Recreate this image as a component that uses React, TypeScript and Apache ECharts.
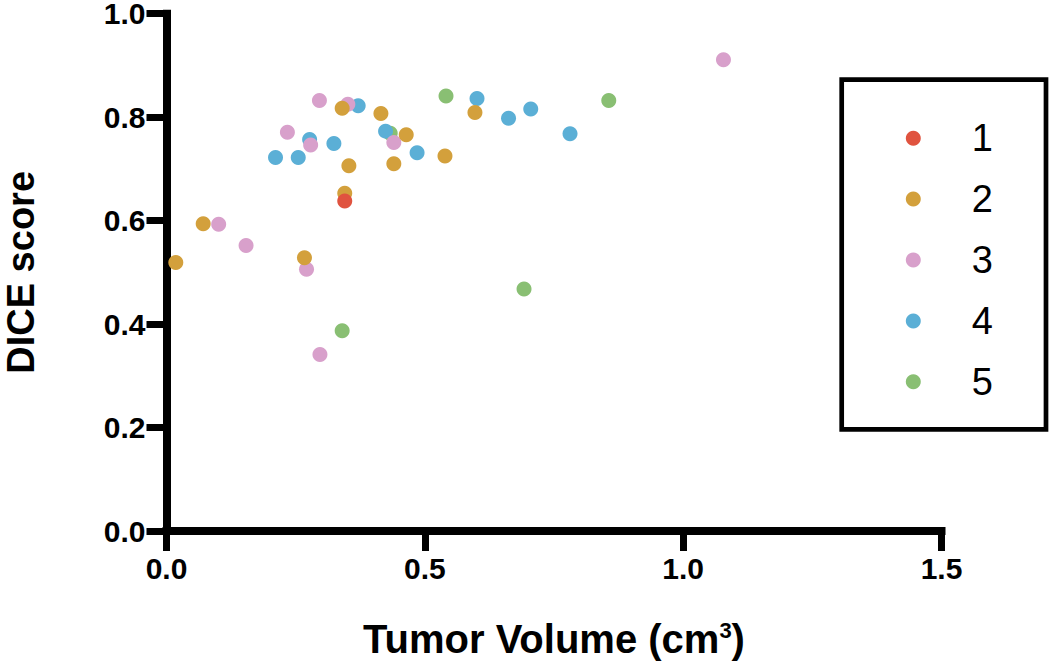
import React, { useEffect, useRef } from "react";
import * as echarts from "echarts";

const groupNames = ["1", "2", "3", "4", "5"];
const groupColors = ["#E0533F", "#D3A03C", "#D8A0CB", "#5BAFD6", "#89BF73"];

const group1: [number, number][] = [[0.345, 0.638]];
const group2: [number, number][] = [
  [0.018, 0.519], [0.071, 0.594], [0.267, 0.528], [0.34, 0.817], [0.345, 0.653],
  [0.353, 0.706], [0.415, 0.807], [0.44, 0.71], [0.464, 0.766], [0.539, 0.725], [0.597, 0.809],
];
const group3: [number, number][] = [
  [0.101, 0.593], [0.154, 0.552], [0.234, 0.771], [0.271, 0.506], [0.279, 0.746],
  [0.296, 0.832], [0.297, 0.341], [0.351, 0.825], [0.44, 0.751], [1.078, 0.911],
];
const group4: [number, number][] = [
  [0.211, 0.722], [0.255, 0.722], [0.277, 0.757], [0.324, 0.749], [0.371, 0.822],
  [0.424, 0.773], [0.485, 0.731], [0.601, 0.836], [0.662, 0.798], [0.705, 0.816], [0.781, 0.768],
];
const group5: [number, number][] = [
  [0.34, 0.387], [0.433, 0.769], [0.541, 0.841], [0.692, 0.468], [0.856, 0.832],
];
const groups = [group1, group2, group3, group4, group5];

const xTicks = { min: 0, max: 1.5, interval: 0.5 };
const yTicks = { min: 0, max: 1.0, interval: 0.2 };

const FONT = "'Liberation Sans', Arial, Helvetica, sans-serif";

export default function App() {
  const ref = useRef<HTMLDivElement>(null);
  useEffect(() => {
    if (!ref.current) return;
    const chart = echarts.init(ref.current, undefined, { renderer: "svg" });
    const axisCommon = {
      axisLine: { show: true, lineStyle: { color: "#000", width: 8, cap: "square" } },
      axisTick: { show: true, inside: false, length: 20, lineStyle: { color: "#000", width: 7 } },
      splitLine: { show: false },
      axisLabel: {
        color: "#000",
        fontFamily: FONT,
        fontWeight: "bold",
        fontSize: 30,
        lineHeight: 24,
        formatter: (v: number) => v.toFixed(1),
      },
    };
    chart.setOption({
      animation: false,
      backgroundColor: "#fff",
      textStyle: { fontFamily: FONT },
      grid: {
        left: 166.5,
        top: 13.7,
        width: 775,
        height: 517.3,
        containLabel: false,
        outerBoundsMode: "none",
      },
      xAxis: {
        type: "value",
        ...xTicks,
        ...axisCommon,
        axisLabel: { ...axisCommon.axisLabel, margin: 25 },
        name: "{a|Tumor Volume (cm}{sup|3}{a|)}",
        nameLocation: "middle",
        nameGap: 88,
        nameTextStyle: {
          rich: {
            a: { fontSize: 40, fontWeight: "bold", color: "#000", fontFamily: FONT },
            sup: { fontSize: 22, fontWeight: "bold", color: "#000", fontFamily: FONT, verticalAlign: "top" },
          },
        },
      },
      yAxis: {
        type: "value",
        ...yTicks,
        ...axisCommon,
        axisLabel: { ...axisCommon.axisLabel, margin: 21, lineHeight: 22, padding: [4, 0, 0, 0] },
        name: "DICE score",
        nameLocation: "middle",
        nameRotate: 90,
        nameGap: 129,
        nameTextStyle: { fontSize: 38, lineHeight: 34, fontWeight: "bold", color: "#000", fontFamily: FONT },
      },
      legend: {
        data: groupNames,
        orient: "vertical",
        left: 900.8,
        top: 114.2,
        itemWidth: 15,
        itemHeight: 15,
        itemGap: 22.9,
        icon: "circle",
        textStyle: { fontSize: 38, lineHeight: 36, color: "#000", fontFamily: FONT, padding: [0, 0, 0, 46] },
      },
      graphic: [
        {
          type: "rect",
          shape: { x: 841.7, y: 79.7, width: 204.3, height: 349.6 },
          style: { fill: "none", stroke: "#000", lineWidth: 4.7 },
          z: 10,
        },
      ],
      series: groups.map((g, i) => ({
        name: groupNames[i],
        type: "scatter",
        data: g,
        symbol: "circle",
        symbolSize: 15,
        z: 10 - i,
        itemStyle: { color: groupColors[i], opacity: 1 },
        emphasis: { disabled: true },
      })),
    });
    return () => chart.dispose();
  }, []);
  return (
    <div
      ref={ref}
      style={{ position: "fixed", left: 0, top: 0, width: 1050, height: 666, background: "#fff" }}
    />
  );
}
